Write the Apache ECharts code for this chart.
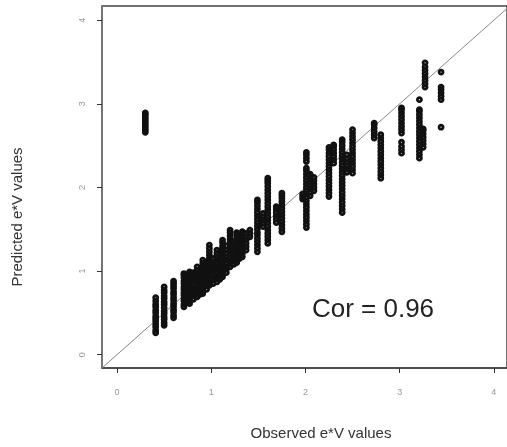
<!DOCTYPE html>
<html>
<head>
<meta charset="utf-8">
<script src="https://cdn.jsdelivr.net/npm/echarts@6/dist/echarts.min.js"></script>
<style>
  html, body { margin: 0; padding: 0; background: #fff; }
  #chart { width: 507px; height: 447px; }
</style>
</head>
<body>
<div id="chart"></div>
<script>
// observed e*V value of each vertical group of points
const obsX = [0.30, 0.41, 0.50, 0.60, 0.71, 0.74, 0.77, 0.81, 0.85, 0.88, 0.91, 0.95, 0.98, 1.02, 1.06,
  1.09, 1.12, 1.16, 1.20, 1.24, 1.27, 1.30, 1.33, 1.37, 1.41, 1.49, 1.55, 1.60, 1.69, 1.75, 1.97,
  2.01, 2.05, 2.09, 2.25, 2.30, 2.39, 2.44, 2.50, 2.73, 2.80, 3.02, 3.21, 3.25, 3.27, 3.44]

// predicted e*V values for each group
const predY = [
  [2.66, 2.69, 2.72, 2.75, 2.78, 2.81, 2.84, 2.87, 2.89],
  [0.26, 0.29, 0.33, 0.36, 0.40, 0.43, 0.46, 0.50, 0.53, 0.57, 0.60, 0.64, 0.68],
  [0.35, 0.38, 0.42, 0.45, 0.49, 0.52, 0.56, 0.60, 0.63, 0.67, 0.70, 0.74, 0.77, 0.81],
  [0.44, 0.47, 0.51, 0.54, 0.58, 0.61, 0.65, 0.68, 0.72, 0.75, 0.79, 0.82, 0.85, 0.88],
  [0.57, 0.60, 0.64, 0.67, 0.71, 0.74, 0.78, 0.81, 0.85, 0.88, 0.92, 0.95, 0.97],
  [0.62, 0.66, 0.70, 0.73, 0.77, 0.81, 0.84, 0.88, 0.92],
  [0.61, 0.64, 0.68, 0.72, 0.75, 0.79, 0.83, 0.86, 0.90, 0.93, 0.96, 0.99],
  [0.66, 0.70, 0.73, 0.77, 0.80, 0.84, 0.88, 0.91, 0.95, 0.98],
  [0.69, 0.72, 0.76, 0.80, 0.83, 0.87, 0.90, 0.94, 0.98, 1.01, 1.05],
  [0.72, 0.76, 0.79, 0.83, 0.87, 0.90, 0.94, 0.97, 1.00],
  [0.73, 0.77, 0.80, 0.84, 0.88, 0.91, 0.95, 0.98, 1.02, 1.06, 1.09, 1.13],
  [0.78, 0.82, 0.85, 0.89, 0.93, 0.96, 1.00, 1.03, 1.07, 1.10],
  [0.83, 0.86, 0.90, 0.94, 0.97, 1.01, 1.04, 1.08, 1.12, 1.15, 1.19, 1.23, 1.27, 1.31],
  [0.85, 0.89, 0.92, 0.96, 1.00, 1.03, 1.07, 1.11, 1.15],
  [0.87, 0.91, 0.94, 0.98, 1.02, 1.05, 1.09, 1.13, 1.17, 1.21, 1.25],
  [0.90, 0.94, 0.98, 1.01, 1.05, 1.09, 1.13, 1.17, 1.22],
  [0.93, 0.97, 1.00, 1.04, 1.08, 1.11, 1.15, 1.19, 1.23, 1.27, 1.30, 1.34, 1.37],
  [0.98, 1.02, 1.05, 1.09, 1.13, 1.17, 1.21, 1.25, 1.30],
  [1.05, 1.09, 1.12, 1.16, 1.20, 1.24, 1.27, 1.31, 1.35, 1.38, 1.42, 1.46, 1.49],
  [1.08, 1.12, 1.16, 1.20, 1.24, 1.28, 1.31, 1.35],
  [1.10, 1.14, 1.17, 1.21, 1.25, 1.28, 1.32, 1.36, 1.39, 1.43, 1.46],
  [1.15, 1.19, 1.23, 1.27, 1.31, 1.35, 1.40],
  [1.17, 1.21, 1.24, 1.28, 1.32, 1.36, 1.40, 1.44, 1.47],
  [1.25, 1.29, 1.33, 1.37, 1.41, 1.45],
  [1.41, 1.45, 1.49],
  [1.23, 1.27, 1.31, 1.35, 1.39, 1.43, 1.46, 1.50, 1.54, 1.58, 1.62, 1.66, 1.70, 1.74, 1.78, 1.82, 1.85],
  [1.53, 1.57, 1.61, 1.65, 1.69],
  [1.33, 1.37, 1.41, 1.45, 1.49, 1.53, 1.57, 1.61, 1.65, 1.69, 1.73, 1.77, 1.81, 1.85, 1.89, 1.93, 1.97, 2.01, 2.05, 2.08, 2.11],
  [1.58, 1.62, 1.66, 1.70, 1.74, 1.77],
  [1.47, 1.51, 1.55, 1.59, 1.63, 1.67, 1.71, 1.75, 1.79, 1.83, 1.87, 1.90, 1.93],
  [1.86, 1.89, 1.92],
  [1.52, 1.56, 1.60, 1.64, 1.68, 1.72, 1.76, 1.80, 1.84, 1.88, 1.92, 1.96, 2.00, 2.04, 2.08, 2.12, 2.16, 2.20, 2.23, 2.31, 2.35, 2.39, 2.42],
  [1.90, 1.94, 1.98, 2.02, 2.06, 2.10, 2.14, 2.16],
  [1.96, 2.00, 2.04, 2.08, 2.12],
  [1.89, 1.93, 1.97, 2.01, 2.05, 2.09, 2.13, 2.17, 2.21, 2.25, 2.29, 2.33, 2.37, 2.41, 2.45, 2.48],
  [2.29, 2.33, 2.37, 2.41, 2.45, 2.49, 2.51],
  [1.70, 1.74, 1.78, 1.82, 1.86, 1.90, 1.94, 1.98, 2.02, 2.06, 2.10, 2.14, 2.18, 2.22, 2.26, 2.30, 2.34, 2.38, 2.42, 2.46, 2.50, 2.54, 2.57],
  [2.18, 2.22, 2.26, 2.30, 2.34, 2.39],
  [2.17, 2.21, 2.25, 2.29, 2.33, 2.37, 2.41, 2.45, 2.49, 2.53, 2.57, 2.61, 2.65, 2.69],
  [2.59, 2.63, 2.67, 2.71, 2.75, 2.77],
  [2.11, 2.15, 2.19, 2.23, 2.27, 2.31, 2.35, 2.39, 2.43, 2.47, 2.51, 2.55, 2.59, 2.63],
  [2.41, 2.45, 2.49, 2.54, 2.65, 2.69, 2.73, 2.77, 2.81, 2.85, 2.89, 2.93, 2.95],
  [2.35, 2.39, 2.43, 2.47, 2.51, 2.55, 2.59, 2.63, 2.67, 2.71, 2.75, 2.79, 2.83, 2.87, 2.91, 2.93, 3.05],
  [2.48, 2.52, 2.56, 2.60, 2.64, 2.68, 2.70],
  [3.20, 3.24, 3.28, 3.32, 3.36, 3.40, 3.44, 3.49],
  [2.72, 3.05, 3.09, 3.13, 3.17, 3.20, 3.38]
]

const tickValues = [0, 1, 2, 3, 4]
// y = x reference line
const refLine = [[-0.3, -0.3], [4.3, 4.3]]
const corText = 'Cor = 0.96'

let points = []
obsX.forEach(function (x, i) {
  predY[i].forEach(function (y) {
    points.push([x, y])
  })
})

let myChart = echarts.init(document.getElementById('chart'))
myChart.setOption({
  animation: false,
  grid: {
    left: 102,
    right: 0,
    top: 6,
    bottom: 79,
    show: true,
    borderColor: '#444',
    borderWidth: 1.5
  },
  xAxis: {
    type: 'value',
    min: -0.16,
    max: 4.14,
    splitLine: { show: false },
    axisLine: { show: true, onZero: false, lineStyle: { color: '#444', width: 1.5 } },
    axisTick: { show: true, inside: false, customValues: tickValues, length: 5, lineStyle: { color: '#333', width: 1 } },
    axisLabel: { customValues: tickValues, margin: 20, color: '#999', fontSize: 9, fontFamily: 'Liberation Sans' }
  },
  yAxis: {
    type: 'value',
    min: -0.16,
    max: 4.17,
    splitLine: { show: false },
    axisLine: { show: true, onZero: false, lineStyle: { color: '#777', width: 1 } },
    axisTick: { show: true, inside: false, customValues: tickValues, length: 5, lineStyle: { color: '#333', width: 1 } },
    axisLabel: { customValues: tickValues, margin: 15, rotate: 90, color: '#999', fontSize: 9, fontFamily: 'Liberation Sans' }
  },
  graphic: [
    {
      type: 'text', x: 321, y: 434,
      style: { text: 'Observed e*V values', align: 'center', verticalAlign: 'middle', font: '15px "Liberation Sans"', fill: '#333' }
    },
    {
      type: 'text', x: 18, y: 217, rotation: Math.PI / 2,
      style: { text: 'Predicted e*V values', align: 'center', verticalAlign: 'middle', font: '15px "Liberation Sans"', fill: '#333' }
    },
    {
      type: 'text', x: 373, y: 310,
      style: { text: corText, align: 'center', verticalAlign: 'middle', font: '26px "Liberation Sans"', fill: '#222' }
    }
  ],
  series: [
    {
      type: 'line',
      data: refLine,
      symbol: 'none',
      clip: true,
      lineStyle: { color: '#888', width: 1 },
      z: 1
    },
    {
      type: 'scatter',
      data: points,
      symbol: 'circle',
      symbolSize: 4,
      itemStyle: { color: 'rgba(0,0,0,0)', borderColor: '#111', borderWidth: 2.8, opacity: 1 },
      z: 2
    }
  ]
})
</script>
</body>
</html>
